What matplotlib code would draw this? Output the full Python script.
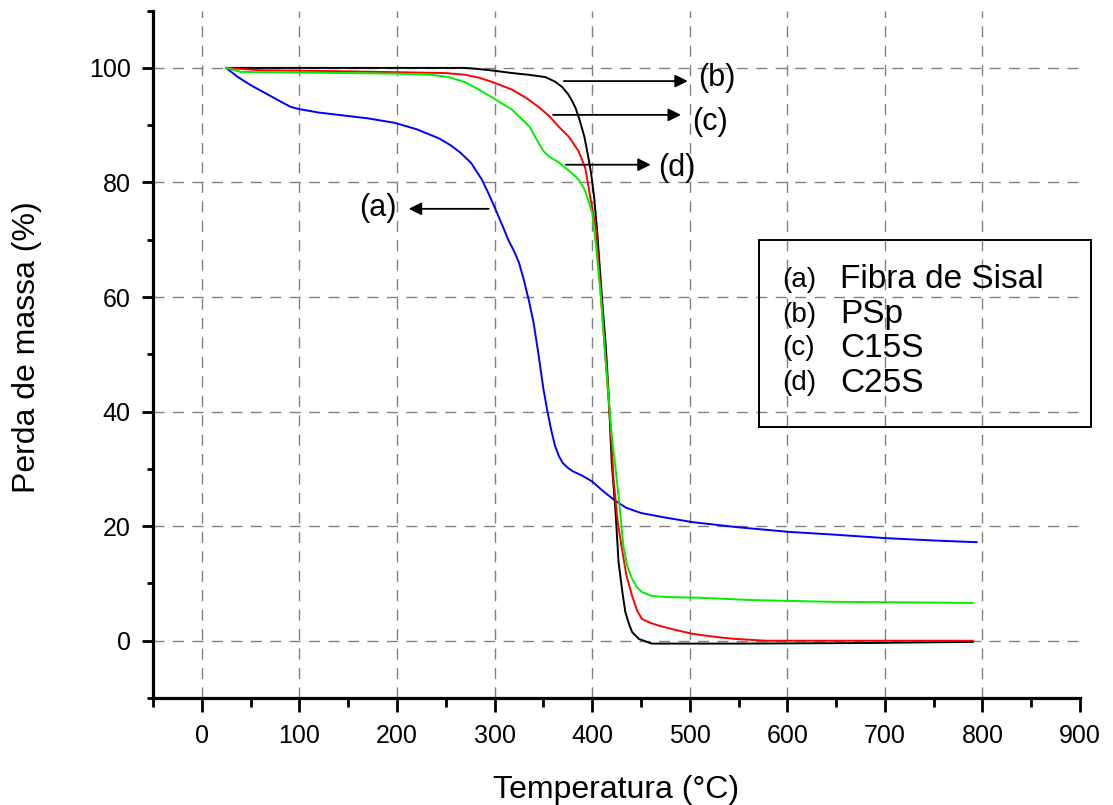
import matplotlib.pyplot as plt
from matplotlib.patches import Rectangle

plt.rcParams['font.family'] = ['Liberation Sans', 'DejaVu Sans']

# (a) Fibra de Sisal
temp_a = [25, 37, 50, 65, 80, 91, 100, 120, 140, 170, 198, 220, 243, 255, 265, 276, 287, 294,
          301, 308, 314, 320, 325, 330, 335, 340, 345, 350, 354, 358, 362, 366, 370,
          375, 380, 390, 400, 410, 418, 424, 435, 450, 475, 503, 550, 602, 650, 702, 750, 794]
mass_a = [100, 98.4, 97.0, 95.6, 94.2, 93.2, 92.8, 92.2, 91.8, 91.2, 90.4, 89.3, 87.7, 86.5,
          85.2, 83.4, 80.5, 78, 75.3, 72.5, 70, 68, 66, 63, 59.5, 55.5, 50, 44, 40.2, 36.8,
          34, 32.2, 31, 30.2, 29.6, 28.8, 27.8, 26.3, 25.2, 24.4, 23.2, 22.3,
          21.5, 20.7, 19.8, 19.0, 18.5, 17.9, 17.5, 17.2]

# (b) PSp
temp_b = [25, 100, 200, 270, 284, 300, 318, 335, 352, 362, 369, 375, 379, 383, 386, 389, 392,
          396, 399, 402, 405, 410, 414, 417, 420, 424, 427, 431, 434, 438, 441, 448, 461, 550,
          680, 790]
mass_b = [100, 100, 100, 100, 99.8, 99.5, 99.1, 98.8, 98.4, 97.6, 96.7, 95.5, 94.4, 93.0, 91.5,
          89.8, 88, 84.5, 81.5, 77.5, 71.8, 60, 51.4, 42.7, 31.2, 22.5, 13.8, 8.5, 5, 2.8, 1.5,
          0.3, -0.5, -0.5, -0.4, -0.2]

# (c) C15S
temp_c = [25, 60, 150, 250, 270, 284, 300, 318, 332, 345, 356, 366, 376, 386, 393, 398, 404,
          409, 414, 419, 422, 426, 430, 435, 441, 446, 451, 460, 469, 485, 503, 525, 544, 578,
          700, 790]
mass_c = [100, 99.6, 99.4, 99.1, 98.8, 98.3, 97.4, 96.2, 94.8, 93.2, 91.6, 89.7, 88, 85.5,
          82.5, 77.5, 71.8, 60, 48.6, 37, 28, 21, 16.6, 11.5, 7.8, 5.3, 3.8, 3.1, 2.6, 1.9, 1.2,
          0.7, 0.35, 0, 0, 0]

# (d) C25S
temp_d = [25, 40, 100, 200, 235, 253, 270, 284, 300, 318, 336, 345, 350, 356, 365, 373, 380,
          386, 391, 395, 400, 404, 409, 414, 420, 424, 427, 432, 436, 441, 446, 451, 461, 480,
          510, 564, 643, 720, 790]
mass_d = [100, 99.3, 99.2, 99.0, 98.8, 98.4, 97.5, 96.2, 94.6, 92.7, 89.7, 86.9, 85.5, 84.5,
          83.6, 82.5, 81.5, 80.5, 79.2, 77.5, 74.7, 68.8, 60, 48.6, 36, 30, 25.3, 16.6, 13,
          10.8, 9.3, 8.5, 7.8, 7.6, 7.5, 7.1, 6.8, 6.7, 6.6]

tags = ['(a)', '(b)', '(c)', '(d)']
names = ['Fibra de Sisal', 'PSp', 'C15S', 'C25S']
colors = ['#0000ff', '#000000', '#ff0000', '#00ee00']

fig = plt.figure(figsize=(11.13, 8.05), dpi=100)
ax = fig.add_axes([0.1375, 0.1329, 0.8329, 0.8539])

# grid
for x in range(0, 900, 100):
    ax.axvline(x, color='#808080', lw=1.0, dashes=(8, 6), zorder=0)
for y in range(0, 120, 20):
    ax.axhline(y, color='#808080', lw=1.0, dashes=(8, 6), zorder=0)

series = [(temp_a, mass_a), (temp_b, mass_b), (temp_c, mass_c), (temp_d, mass_d)]
for (t, m), c in zip(series, colors):
    ax.plot(t, m, color=c, lw=1.4)

ax.set_xlim(-50, 900)
ax.set_ylim(-10, 110)
ax.set_xticks(range(0, 1000, 100))
ax.set_xticks(range(-50, 900, 100), minor=True)
ax.set_yticks(range(0, 120, 20))
ax.set_yticks(range(-10, 120, 20), minor=True)

for s in ['top', 'right']:
    ax.spines[s].set_visible(False)
for s in ['left', 'bottom']:
    ax.spines[s].set_linewidth(2.3)

ax.tick_params(axis='x', which='major', direction='out', length=10, width=2, labelsize=18, pad=9)
ax.tick_params(axis='x', which='minor', direction='out', length=6.5, width=2)
ax.tick_params(axis='y', which='major', direction='out', length=8, width=2, labelsize=18, pad=8)
ax.tick_params(axis='y', which='minor', direction='out', length=4.3, width=2)

ax.set_xlabel('Temperatura (°C)', fontsize=23)
ax.xaxis.set_label_coords(0.5, -0.112)
ax.set_ylabel('Perda de massa (%)', fontsize=23)
ax.yaxis.set_label_coords(-0.12, 0.51)

# arrows with labels
arrows = [
    ('(a)', (294, 75.4), (212, 75.4), (180, 75.6)),
    ('(b)', (371, 97.7), (498, 97.7), (528, 98.3)),
    ('(c)', (360, 91.8), (491, 91.8), (521, 90.6)),
    ('(d)', (373, 83.1), (460, 83.1), (487, 82.6)),
]
for lab, start, end, pos in arrows:
    ax.annotate('', xy=end, xytext=start,
                arrowprops=dict(arrowstyle='-|>', color='k', lw=1.3, mutation_scale=19,
                                shrinkA=0, shrinkB=0))
    ax.text(pos[0], pos[1], lab, fontsize=22, ha='center', va='center')

# legend box
fig.add_artist(Rectangle((0.682, 0.4696), 0.2983, 0.2323, transform=fig.transFigure,
                         fill=False, edgecolor='k', lw=1.4))
rows_y = [280, 315, 348, 383]
for tag, name, yp in zip(tags, names, rows_y):
    fig.text(782 / 1113, 1 - yp / 805, tag, fontsize=20, ha='left', va='center')
    fig.text(840 / 1113, 1 - yp / 805, name, fontsize=24, ha='left', va='center')

fig.savefig('out.png', dpi=100)
